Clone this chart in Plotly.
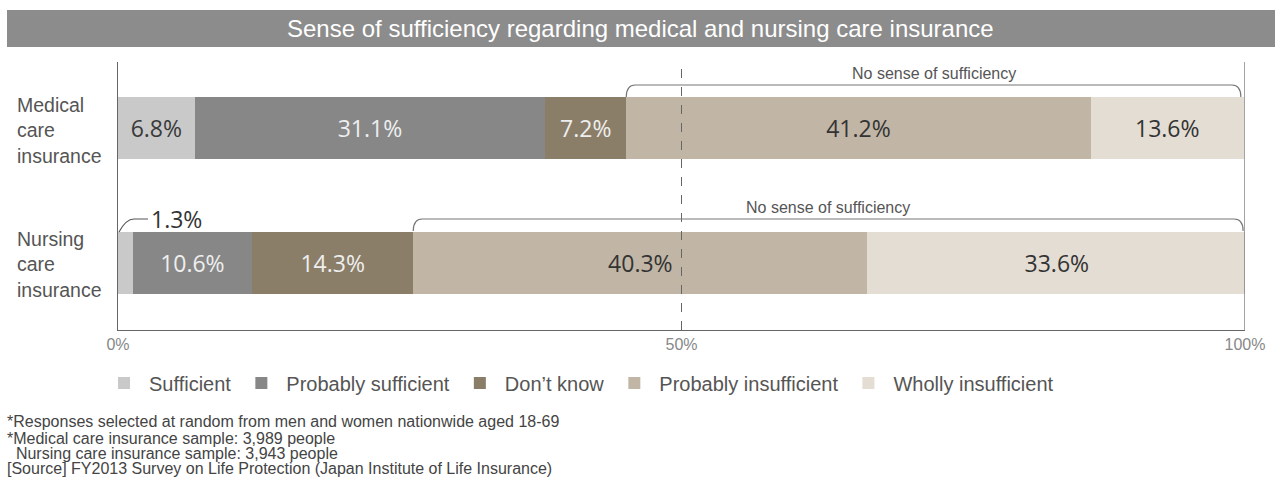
import plotly.graph_objects as go

# ---- data ----
categories = ["Nursing care insurance", "Medical care insurance"]
cat_labels = ["Nursing<br>care<br>insurance", "Medical<br>care<br>insurance"]
series_names = ["Sufficient", "Probably sufficient", "Don’t know",
                "Probably insufficient", "Wholly insufficient"]
sufficient = [1.3, 6.8]
probably_sufficient = [10.6, 31.1]
dont_know = [14.3, 7.2]
probably_insufficient = [40.3, 41.2]
wholly_insufficient = [33.6, 13.6]
x_ticks = [0, 50, 100]
x_tick_labels = ["0%", "50%", "100%"]
bracket_label = "No sense of sufficiency"
title_text = "Sense of sufficiency regarding medical and nursing care insurance"
notes = [
    "*Responses selected at random from men and women nationwide aged 18-69",
    "*Medical care insurance sample: 3,989 people",
    "  Nursing care insurance sample: 3,943 people",
    "[Source] FY2013 Survey on Life Protection (Japan Institute of Life Insurance)",
]

series_values = [sufficient, probably_sufficient, dont_know,
                 probably_insufficient, wholly_insufficient]
colors = ["#c9c9c9", "#878787", "#8b7e69", "#c1b6a6", "#e3ddd4"]
text_colors = ["#3a3a3a", "#eeeeee", "#eeeeee", "#333333", "#333333"]

FONT = "Liberation Sans"
NUMFONT = "Open Sans"
W, H = 1281, 495
L, R, T, B = 118, 36, 62, 165
PH = H - T - B
PW = W - L - R


def py(pix):
    return (H - B - pix) / PH


def pxp(pix):
    return (pix - L) / PW


def dx(pix):
    # pixel distance to data units on the x axis (range 0-100)
    return pix * 100.0 / PW


fig = go.Figure()
for name, vals, c, tc in zip(series_names, series_values, colors, text_colors):
    fig.add_trace(go.Bar(
        y=categories, x=vals, name=name, orientation="h",
        marker=dict(color=c, line=dict(width=0)),
        text=[f"{v}%" if v >= 3 else "" for v in vals],
        textposition="inside", insidetextanchor="middle", textangle=0,
        constraintext="none",
        textfont=dict(family=NUMFONT, size=23, color=tc),
        width=0.46, hoverinfo="skip",
    ))

shapes = []
# title bar
shapes.append(dict(type="rect", xref="paper", yref="paper",
                   x0=pxp(7), x1=pxp(1275), y0=py(47), y1=py(10),
                   fillcolor="#8c8c8c", line=dict(width=0), layer="below"))
# 50% dashed line
shapes.append(dict(type="line", xref="x", yref="paper", x0=50, x1=50, y0=0, y1=1,
                   line=dict(color="#666666", width=1, dash="dash")))
# right border
shapes.append(dict(type="line", xref="x", yref="paper", x0=100, x1=100, y0=0, y1=1,
                   line=dict(color="#666666", width=1.2)))

annotations = []
# brackets over "no sense of sufficiency"
bar_tops = [py(232), py(98)]
for i in range(len(categories)):
    start = sufficient[i] + probably_sufficient[i] + dont_know[i]
    end = start + probably_insufficient[i] + wholly_insufficient[i] - dx(3)
    y0 = bar_tops[i] + 1.0 / PH
    y1 = bar_tops[i] + 13.0 / PH
    c = dx(9)
    path = (f"M {start},{y0} Q {start},{y1} {start+c},{y1} "
            f"L {end-c},{y1} Q {end},{y1} {end},{y0}")
    shapes.append(dict(type="path", xref="x", yref="paper", path=path,
                       line=dict(color="#777777", width=1.2)))
    annotations.append(dict(xref="x", yref="paper",
                            x=(start + end) / 2, y=y1 + 1.0 / PH,
                            text=bracket_label, showarrow=False,
                            xanchor="center", yanchor="bottom",
                            font=dict(family=FONT, size=16, color="#555555")))

# leader for the small value
v = sufficient[0]
ly0 = py(232)
ly1 = py(219)
shapes.append(dict(type="path", xref="x", yref="paper",
                   path=(f"M {dx(1)},{ly0} Q {dx(8)},{ly1} {dx(16)},{ly1} "
                         f"L {dx(30)},{ly1}"),
                   line=dict(color="#555555", width=1.2)))
annotations.append(dict(xref="x", yref="paper", x=dx(31), y=ly1,
                        text=f"{v}%", showarrow=False, xanchor="left",
                        yanchor="middle",
                        font=dict(family=NUMFONT, size=23, color="#333333")))

# title
annotations.append(dict(xref="paper", yref="paper", x=pxp(640),
                        y=py(28.5), text=title_text, showarrow=False,
                        xanchor="center", yanchor="middle",
                        font=dict(family=FONT, size=24, color="#ffffff")))
# category labels
for lab, yc in zip(cat_labels, [py(264), py(130)]):
    annotations.append(dict(xref="paper", yref="paper", x=pxp(15), y=yc, text=lab,
                            showarrow=False, xanchor="left", yanchor="middle",
                            align="left",
                            font=dict(family=FONT, size=19.5, color="#555555")))
# notes
for n, ypix in zip(notes, [422, 438, 453, 469]):
    annotations.append(dict(xref="paper", yref="paper", x=pxp(5), y=py(ypix), text=n,
                            showarrow=False, xanchor="left", yanchor="middle",
                            font=dict(family=FONT, size=16, color="#444444")))

fig.update_layout(
    width=W, height=H, margin=dict(l=L, r=R, t=T, b=B),
    barmode="stack", plot_bgcolor="white", paper_bgcolor="white",
    font=dict(family=FONT, color="#555555"),
    xaxis=dict(range=[0, 100], tickvals=x_ticks, ticktext=x_tick_labels,
               showgrid=False, zeroline=False, showline=True, linecolor="#666666",
               linewidth=1.2, ticks="", tickfont=dict(family=FONT, size=16, color="#888888"),
               fixedrange=True),
    yaxis=dict(type="category", categoryarray=categories, range=[-0.496, 1.489],
               showticklabels=False, showgrid=False, zeroline=False, showline=True,
               linecolor="#666666", linewidth=1.2, ticks="", fixedrange=True),
    shapes=shapes, annotations=annotations,
    legend=dict(orientation="h", x=pxp(99), xanchor="left", y=py(383), yanchor="middle",
                font=dict(family=FONT, size=20, color="#555555"), itemwidth=40,
                traceorder="normal", itemclick=False, itemdoubleclick=False),
    showlegend=True,
)

fig.write_html("out.html")
